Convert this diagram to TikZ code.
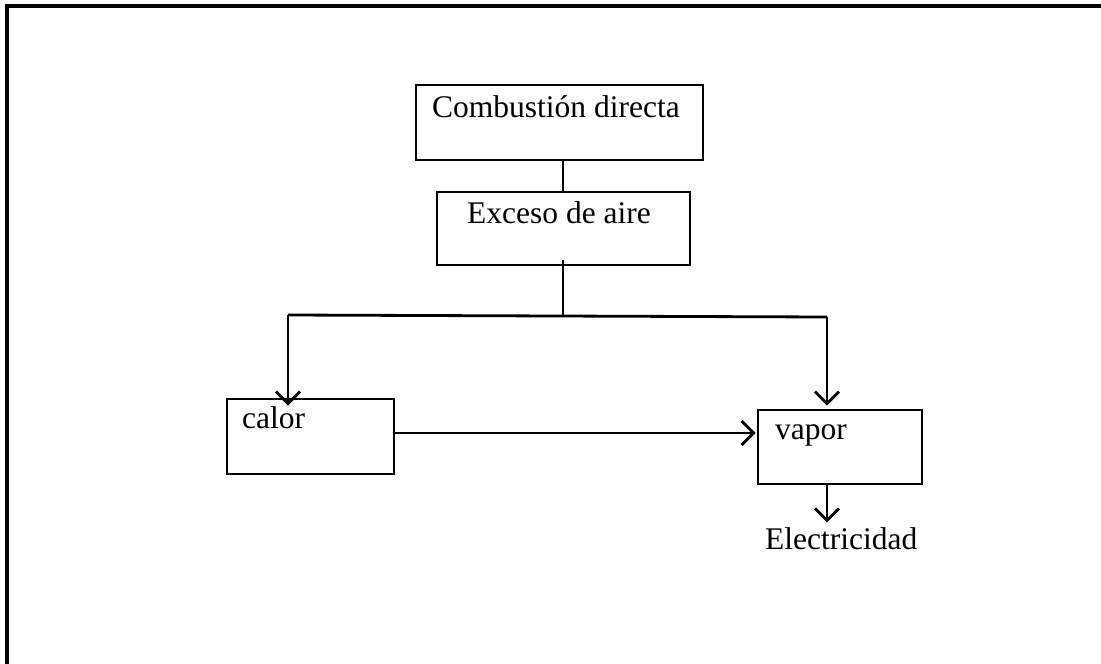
\documentclass[tikz,border=0pt]{standalone}
\usepackage{fontspec}
\setmainfont{Liberation Serif}
\usetikzlibrary{arrows.meta}

\begin{document}
\begin{tikzpicture}[x=1pt, y=-1pt,
  box/.style={draw, line width=2.8pt, rectangle, inner sep=0pt},
  txt/.style={inner sep=0pt, anchor=base west, font=\fontsize{31.5}{36}\selectfont},
  wire/.style={line width=2.8pt},
  arr/.style={wire, -{Straight Barb[length=12pt, width=24pt, line width=2.8pt]}}]

  \useasboundingbox (0,0) rectangle (1101,664);
  \clip (0,0) rectangle (1101,664);

  % page frame
  \draw[line width=3.5pt] (7,680) -- (7,6) -- (1120,6);

  % boxes
  \node[box, minimum width=287pt, minimum height=75pt] (comb)  at (559.5,122.5) {};
  \node[box, minimum width=253pt, minimum height=73pt] (exc)   at (563.5,228.5) {};
  \node[box, minimum width=167pt, minimum height=75pt] (calor) at (310.5,436.5) {};
  \node[box, minimum width=164pt, minimum height=74pt] (vapor) at (840,447) {};

  % labels
  \node[txt] (tcomb)  at (432,117) {Combustión directa};
  \node[txt] (texc)   at (467,223) {Exceso de aire};
  \node[txt] (tcalor) at (242,428) {calor};
  \node[txt] (tvapor) at (775,439) {vapor};
  \node[txt] (elec)   at (765,549) {Electricidad};

  % routing points
  \coordinate (trunk)  at (563,315);
  \coordinate (lsplit) at (288,315);
  \coordinate (rsplit) at (827,317);
  \coordinate (mid)    at (0,433);

  % connectors
  \draw[wire] (trunk |- comb.south) -- (trunk |- exc.north);
  \draw[wire] ([yshift=6pt]exc.south -| trunk) -- (trunk);
  \draw[wire] (lsplit) -- (rsplit);
  \draw[arr] (lsplit) -- ([yshift=-8pt]calor.north -| lsplit);
  \draw[arr] (rsplit) -- ([yshift=3pt]vapor.north -| rsplit);
  \draw[arr] (calor.east |- mid) -- ([xshift=-1pt]vapor.west |- mid);
  \draw[arr] (vapor.south -| rsplit) -- ([yshift=4.5pt]elec.north -| rsplit);
\end{tikzpicture}
\end{document}
